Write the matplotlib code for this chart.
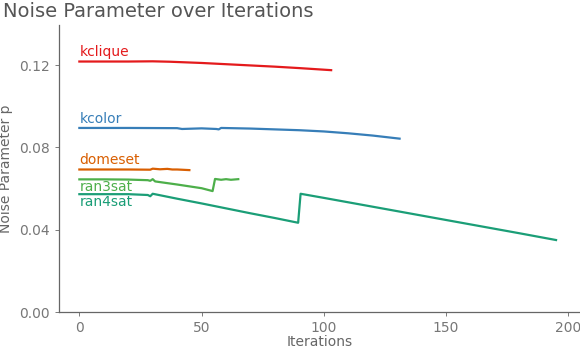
import numpy as np
import matplotlib.pyplot as plt

# values
kclique_x = [0, 10, 20, 30, 37, 50, 60, 70, 80, 90, 103]
kclique_y = [0.1218, 0.1218, 0.1218, 0.1219, 0.1217, 0.1211, 0.1205, 0.1199, 0.1193, 0.1186, 0.1176]

kcolor_x = [0, 20, 40, 42, 50, 56, 57, 58, 70, 80, 90, 100, 110, 120, 131]
kcolor_y = [0.0895, 0.0895, 0.0894, 0.0890, 0.0893, 0.0890, 0.0888, 0.0895, 0.0892, 0.0888, 0.0884, 0.0878, 0.0869, 0.0858, 0.0843]

domeset_x = [0, 10, 20, 29, 30, 33, 36, 38, 40, 45]
domeset_y = [0.0693, 0.0693, 0.0693, 0.0692, 0.0697, 0.0694, 0.0696, 0.0693, 0.0693, 0.0690]

ran3sat_x = [0, 10, 20, 28, 29, 30, 31, 40, 50, 54.5, 55.5, 58, 60, 62, 65]
ran3sat_y = [0.0645, 0.0645, 0.0644, 0.0641, 0.0638, 0.0646, 0.0635, 0.0620, 0.0602, 0.0588, 0.0647, 0.0643, 0.0646, 0.0643, 0.0646]

ran4sat_x = [0, 10, 20, 28, 29, 30, 40, 50, 60, 70, 80, 89.5, 90.5, 100, 120, 140, 160, 180, 195]
ran4sat_y = [0.0573, 0.0573, 0.0573, 0.0569, 0.0563, 0.0575, 0.0551, 0.0528, 0.0504, 0.0480, 0.0457, 0.0434, 0.0575, 0.0555, 0.0512, 0.0469, 0.0426, 0.0383, 0.0350]

series = [
    ('kclique', kclique_x, kclique_y, '#e41a1c', 0.1262),
    ('kcolor', kcolor_x, kcolor_y, '#377eb8', 0.0938),
    ('domeset', domeset_x, domeset_y, '#d95f02', 0.0737),
    ('ran3sat', ran3sat_x, ran3sat_y, '#4daf4a', 0.0607),
    ('ran4sat', ran4sat_x, ran4sat_y, '#1b9e77', 0.0535),
]

grey = '#666666'
fig = plt.figure(figsize=(5.8, 3.48), dpi=100)
ax = fig.add_axes([0.101, 0.1034, 0.899, 0.825])

for name, xs, ys, col, ly in series:
    ax.plot(xs, ys, color=col, lw=1.6)
    ax.text(0, ly, name, color=col, fontsize=10, va='center', ha='left')

ax.set_xlim(-8.5, 204.8)
ax.set_ylim(0, 0.1396)
ax.set_xticks([0, 50, 100, 150, 200])
ax.set_yticks([0.0, 0.04, 0.08, 0.12])
ax.set_yticklabels(['0.00', '0.04', '0.08', '0.12'])

for s in ['top', 'right']:
    ax.spines[s].set_visible(False)
for s in ['left', 'bottom']:
    ax.spines[s].set_color(grey)
    ax.spines[s].set_linewidth(0.9)
ax.tick_params(colors=grey, labelcolor='#777777', labelsize=10, length=3, width=0.6)

ax.set_xlabel('Iterations', color=grey, fontsize=10, labelpad=0)
ax.set_ylabel('Noise Parameter p', color=grey, fontsize=10, labelpad=4)
fig.text(0.005, 0.995, 'Noise Parameter over Iterations', color='#555555', fontsize=14, va='top', ha='left')

plt.savefig('out.png')
